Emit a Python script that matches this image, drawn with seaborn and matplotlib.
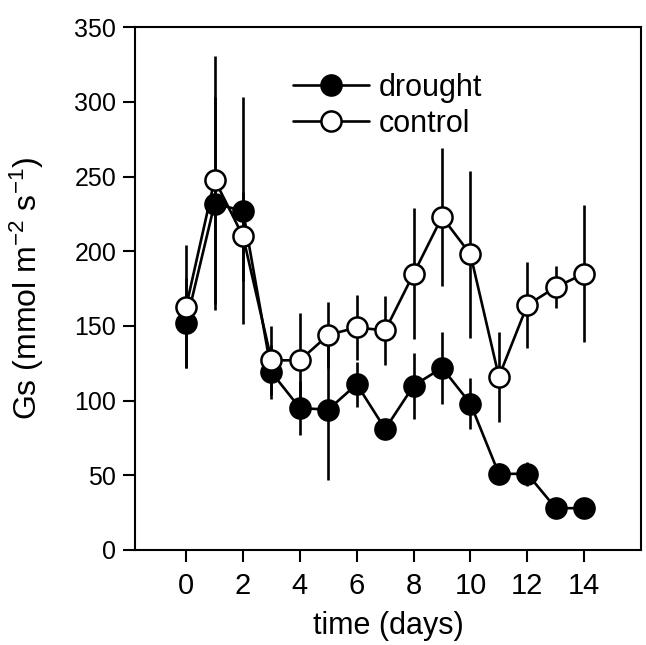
import matplotlib
matplotlib.use("Agg")
import matplotlib.pyplot as plt
import seaborn as sns
import pandas as pd

days = list(range(15))
drought = [152, 232, 227, 119, 95, 94, 111, 81, 110, 122, 98, 51, 51, 28, 28]
drought_err = [30, 71, 76, 18, 18, 47, 15, 4, 22, 24, 17, 7, 8, 2, 2]
control = [163, 248, 210, 127, 127, 144, 149, 147, 185, 223, 198, 116, 164, 176, 185]
control_err = [41, 83, 30, 23, 32, 22, 22, 23, 44, 46, 56, 30, 29, 14, 46]
x_ticks = [0, 2, 4, 6, 8, 10, 12, 14]
y_ticks = [0, 50, 100, 150, 200, 250, 300, 350]

sns.set_style("ticks")
plt.rcParams['font.family'] = ['Liberation Sans', 'DejaVu Sans']
plt.rcParams['mathtext.fontset'] = 'custom'
plt.rcParams['mathtext.rm'] = 'Liberation Sans'
plt.rcParams['mathtext.it'] = 'Liberation Sans'
for k in ['text.color', 'axes.labelcolor', 'xtick.color', 'ytick.color',
          'xtick.labelcolor', 'ytick.labelcolor']:
    plt.rcParams[k] = 'black'

df_d = pd.DataFrame({"day": days, "gs": drought, "err": drought_err})
df_c = pd.DataFrame({"day": days, "gs": control, "err": control_err})

fig = plt.figure(figsize=(6.46, 6.45), dpi=100)
ax = fig.add_axes([0.209, 0.1473, 0.7833, 0.8104])

lw = 1.9
ms = 14.5
ax.errorbar(df_d["day"], df_d["gs"], yerr=df_d["err"], fmt="none",
            ecolor="black", elinewidth=lw, capsize=0, zorder=1)
ax.errorbar(df_c["day"], df_c["gs"], yerr=df_c["err"], fmt="none",
            ecolor="black", elinewidth=lw, capsize=0, zorder=1)

sns.lineplot(data=df_d, x="day", y="gs", ax=ax, color="black", linewidth=lw,
             marker="o", markersize=ms, markerfacecolor="black",
             markeredgecolor="black", markeredgewidth=1.8, label="drought",
             zorder=3)
sns.lineplot(data=df_c, x="day", y="gs", ax=ax, color="black", linewidth=lw,
             marker="o", markersize=ms, markerfacecolor="white",
             markeredgecolor="black", markeredgewidth=1.8, label="control",
             zorder=4)

ax.set_xlim(-1.8, 16)
ax.set_ylim(0, 350)
ax.set_xticks(x_ticks)
ax.set_yticks(y_ticks)
ax.tick_params(axis="x", labelsize=21, length=8.6, width=1.5, pad=7, direction="out")
ax.tick_params(axis="y", labelsize=18, length=8.6, width=1.5, pad=5, direction="out")
for s in ax.spines.values():
    s.set_linewidth(1.5)
    s.set_color("black")

ax.set_xlabel("time (days)", fontsize=22, labelpad=8)
ax.set_ylabel(r"Gs (mmol m$^{-2}$ s$^{-1}$)", fontsize=23, labelpad=20)

ax.legend(loc="upper left", bbox_to_anchor=(0.312, 0.913), frameon=False,
          fontsize=22, handlelength=2.5, handletextpad=0.3, borderpad=0,
          borderaxespad=0, labelspacing=0.2, numpoints=1)

fig.savefig("out.png", dpi=100)
